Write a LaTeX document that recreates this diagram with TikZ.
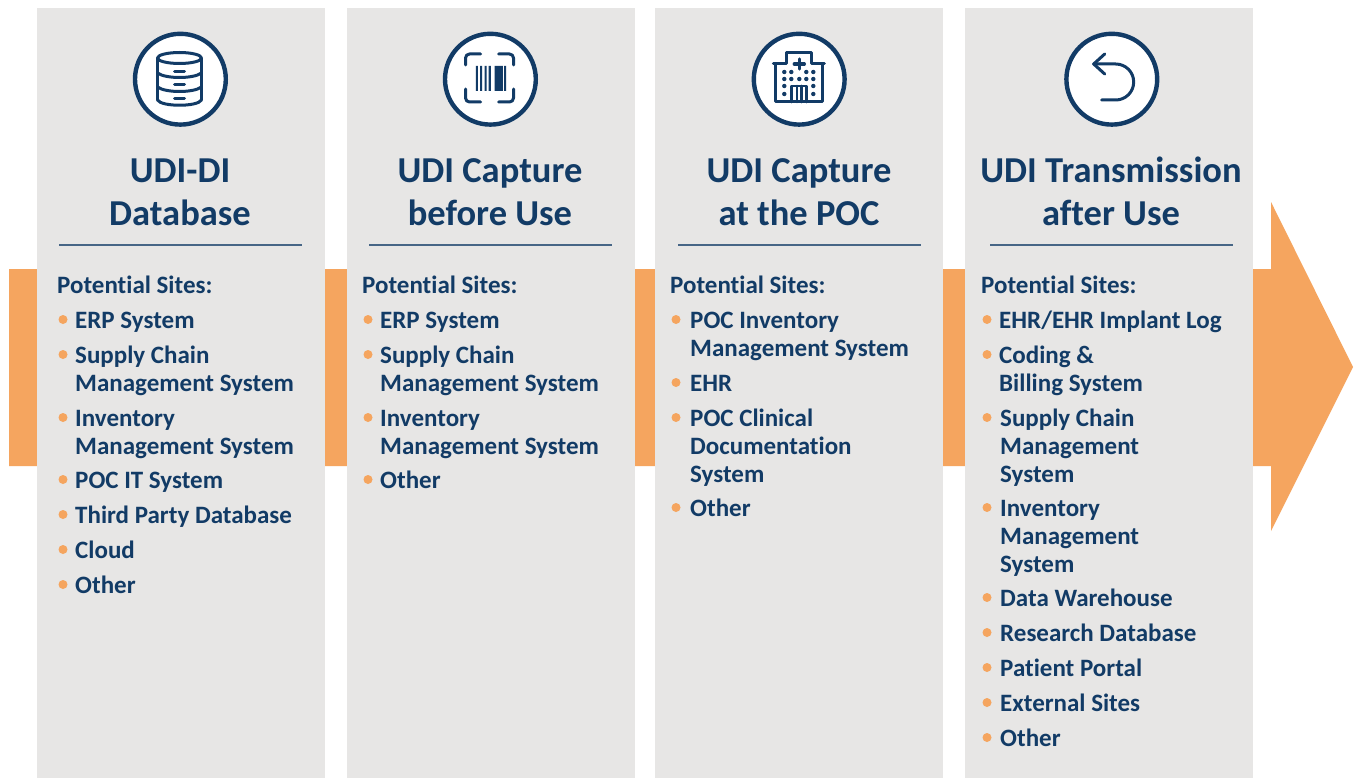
\documentclass[tikz,border=0pt]{standalone}
\usepackage{fontspec}
\setmainfont{Carlito}[BoldFont={Carlito Bold},RawFeature={-liga}]
\definecolor{navy}{HTML}{123B66}
\definecolor{flow}{HTML}{F5A55F}
\definecolor{panel}{HTML}{E7E6E5}
\tikzset{
  x=1pt,y=-1pt,
  panelbox/.style={fill=panel,draw=none},
  iconring/.style={draw=navy,line width=4.4pt,fill=white},
  iconline/.style={draw=navy,line width=3pt,line cap=round,line join=round},
  titletext/.style={font=\fontsize{36.5}{43}\selectfont\bfseries,text=navy,align=center,inner sep=0pt,anchor=base},
  headtext/.style={font=\fontsize{25}{27.7}\selectfont\bfseries,text=navy,anchor=base west,inner sep=0pt},
  itemtext/.style={font=\fontsize{25}{27.7}\selectfont\bfseries,text=navy,anchor=base west,inner sep=0pt,align=left},
  bulletdot/.style={fill=flow,draw=none,circle,minimum size=9pt,inner sep=0pt},
  rulesep/.style={draw=navy!75!panel,line width=1.1pt},
}
% #1 extra lines, #2 bullet x, #3 text x, #4 first baseline y, #5 text
\newcommand{\listitem}[5][0]{%
  \node[bulletdot] at (#2,#4-8.5) {};
  \node[itemtext] at (#3,#4+0.6+#1*27.7) {#5};
}
\begin{document}
\begin{tikzpicture}
\useasboundingbox (0,0) rectangle (1359,778);
\fill[white] (0,0) rectangle (1359,778);
\fill[flow] (9,269) -- (1271,269) -- (1271,202) -- (1353,367) -- (1271,531) -- (1271,466) -- (9,466) -- cycle;
\foreach \a/\b in {37/325,347/635,655/943,965/1253}
  \fill[panelbox] (\a,8) rectangle (\b,778);
% rings
\foreach \c in {180.4,490.4,799.2,1111.8}
  \draw[iconring] (\c,79.2) circle[radius=45.4];
% database icon
\begin{scope}[shift={(179.5,79)}]
  \draw[iconline] (0,-21) ellipse[x radius=22,y radius=5.5];
  \draw[iconline] (-22,-21) -- (-22,21) (22,-21) -- (22,21);
  \draw[iconline] (-22,21) .. controls (-18,28) and (18,28) .. (22,21);
  \draw[iconline] (-22,-6) .. controls (-14,0) and (14,0) .. (22,-6);
  \draw[iconline] (-22,8) .. controls (-14,14) and (14,14) .. (22,8);
  \draw[iconline] (-5,-7) -- (5,-7) (-5,6) -- (5,6) (-5,20) -- (5,20);
\end{scope}
% barcode icon
\begin{scope}[shift={(489.5,79)}]
  \draw[iconline] (-24,-14) -- (-24,-21) arc[start angle=180,end angle=270,radius=4] -- (-9,-25);
  \draw[iconline] (24,-14) -- (24,-21) arc[start angle=0,end angle=-90,radius=4] -- (9,-25);
  \draw[iconline] (-24,10) -- (-24,19) arc[start angle=180,end angle=90,radius=4] -- (-9,23);
  \draw[iconline] (24,10) -- (24,19) arc[start angle=0,end angle=90,radius=4] -- (9,23);
  \fill[navy] (-13.7,-13) rectangle (-11.7,12) (-9.3,-13) rectangle (-7.3,12) (-5,-13) rectangle (-3,12)
    (-1,-13) rectangle (1.3,12) (5,-13) rectangle (13.3,12) (14.7,-13) rectangle (16.7,12);
\end{scope}
% hospital icon
\begin{scope}[shift={(799.3,79)}]
  \draw[iconline] (-26,-15) -- (-13,-15) -- (-13,-26) -- (12,-26) -- (12,-15) -- (25,-15);
  \draw[iconline] (-24,-15) -- (-24,23) -- (23,23) -- (23,-15);
  \draw[iconline,line width=3.4pt] (0,-20) -- (0,-10) (-5,-15) -- (5,-15);
  \foreach \px/\py in {-15/-7,-8/-7,7/-7,14/-7,-15/0,-8/0,0/0,7/0,14/0,-15/7,14/7,-15/15,14/15}
    \fill[navy] (\px,\py) circle[radius=2.2];
  \draw[iconline,line width=2.6pt] (-8,23) -- (-8,7) -- (7,7) -- (7,23);
  \draw[iconline,line width=2.6pt] (-2.5,7) -- (-2.5,23) (2,7) -- (2,23);
\end{scope}
% return icon
\begin{scope}[shift={(1111.7,79)}]
  \draw[iconline] (-7,-25) -- (-18,-15) -- (-7,-5);
  \draw[iconline] (-18,-15) -- (4,-15) arc[start angle=-90,end angle=90,radius=18] -- (-10,21);
\end{scope}
% titles
\node[titletext] (t1) at (180,225.3) {UDI-DI\\Database};
\node[titletext] (t2) at (490,225.3) {UDI Capture\\before Use};
\node[titletext] (t3) at (799,225.3) {UDI Capture\\at the POC};
\node[titletext] (t4) at (1111,225.3) {UDI Transmission\\after Use};
\draw[rulesep] (59,245) -- (302,245);
\draw[rulesep] (369,245) -- (612,245);
\draw[rulesep] (678,245) -- (921,245);
\draw[rulesep] (990,245) -- (1233,245);
% column 1
\node[headtext] (h1) at (57,293.6) {Potential Sites:};
\listitem{63}{75}{328}{ERP System}
\listitem[1]{63}{75}{363}{Supply Chain\\Management System}
\listitem[1]{63}{75}{426}{Inventory\\Management System}
\listitem{63}{75}{488}{POC IT System}
\listitem{63}{75}{523}{Third Party Database}
\listitem{63}{75}{558}{Cloud}
\listitem{63}{75}{593}{Other}
% column 2
\node[headtext] (h2) at (362,293.6) {Potential Sites:};
\listitem{368}{380}{328}{ERP System}
\listitem[1]{368}{380}{363}{Supply Chain\\Management System}
\listitem[1]{368}{380}{426}{Inventory\\Management System}
\listitem{368}{380}{488}{Other}
% column 3
\node[headtext] (h3) at (670,293.6) {Potential Sites:};
\listitem[1]{676}{690}{328}{POC Inventory\\Management System}
\listitem{676}{690}{391}{EHR}
\listitem[2]{676}{690}{426}{POC Clinical\\Documentation\\System}
\listitem{676}{690}{516}{Other}
% column 4
\node[headtext] (h4) at (981,293.6) {Potential Sites:};
\listitem{987}{999}{328}{EHR/EHR Implant Log}
\listitem[1]{987}{999}{363}{Coding \&\\Billing System}
\listitem[2]{987}{1000}{426}{Supply Chain\\Management\\System}
\listitem[2]{987}{1000}{516}{Inventory\\Management\\System}
\listitem{987}{1000}{606}{Data Warehouse}
\listitem{987}{1000}{641}{Research Database}
\listitem{987}{1000}{676}{Patient Portal}
\listitem{987}{1000}{711}{External Sites}
\listitem{987}{1000}{746}{Other}
\end{tikzpicture}
\end{document}
